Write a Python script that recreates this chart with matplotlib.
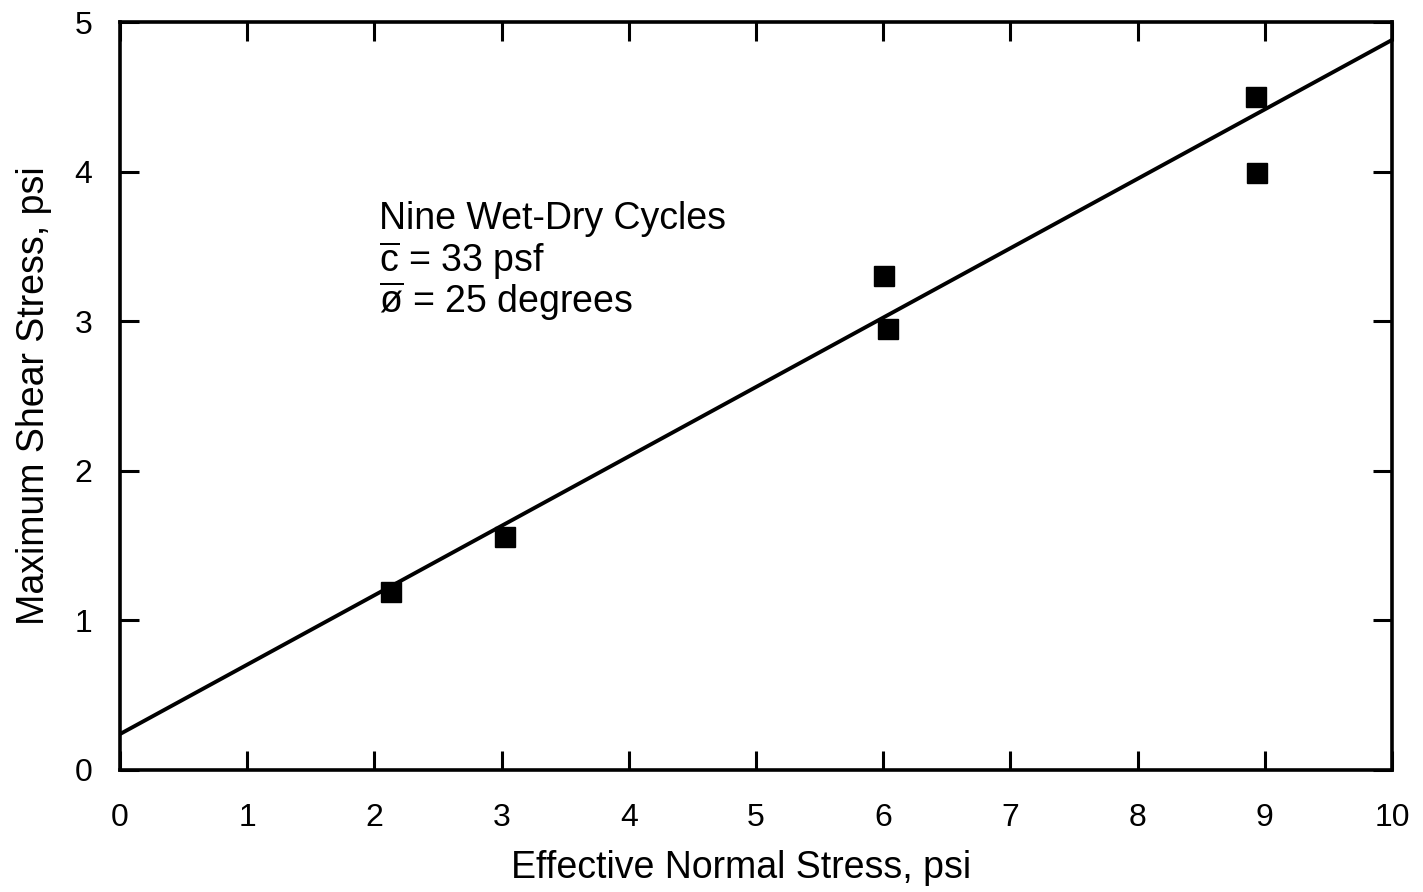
import matplotlib.pyplot as plt

plt.rcParams['font.family'] = ['Liberation Sans', 'DejaVu Sans']
plt.rcParams['mathtext.fontset'] = 'custom'
plt.rcParams['mathtext.rm'] = 'Liberation Sans'
plt.rcParams['mathtext.it'] = 'Liberation Sans'

# === DATA ===
normal_stress = [2.13, 3.03, 6.01, 6.04, 8.93, 8.94]
shear_stress = [1.19, 1.56, 3.30, 2.95, 4.50, 3.99]

# fitted envelope (c = 33 psf, phi = 25 deg)
fit_x = [0, 10]
fit_y = [0.24, 4.88]

x_ticks = list(range(0, 11))
y_ticks = list(range(0, 6))

notes = ['Nine Wet-Dry Cycles',
         r'$\overline{\mathrm{c}}$ = 33 psf',
         r'$\overline{\mathrm{ø}}$ = 25 degrees']

# === PLOT ===
fig = plt.figure(figsize=(14.23, 8.92), dpi=100)
ax = fig.add_axes([0.0843, 0.1368, 0.8939, 0.8385])

ax.plot(fit_x, fit_y, color='black', lw=2.8, solid_capstyle='butt', clip_on=False)
ax.plot(normal_stress, shear_stress, 's', color='black', ms=14.5, clip_on=False)

ax.set_xlim(0, 10)
ax.set_ylim(0, 5)
ax.set_xticks(x_ticks)
ax.set_yticks(y_ticks)
ax.tick_params(direction='in', length=14, width=2.2, top=True, right=True,
               labelsize=23)
ax.tick_params(axis='x', pad=24)
ax.tick_params(axis='y', pad=20)
for s in ax.spines.values():
    s.set_linewidth(2.6)

ax.set_xlabel('Effective Normal Stress, psi', fontsize=27, labelpad=12)
ax.xaxis.label.set_x(0.488)
ax.set_ylabel('Maximum Shear Stress, psi', fontsize=27, labelpad=16)

for i, t in enumerate(notes):
    ax.text(2.04, 3.68 - i * 0.275, t, fontsize=27, va='center', ha='left')

plt.savefig('out.png', dpi=100)
